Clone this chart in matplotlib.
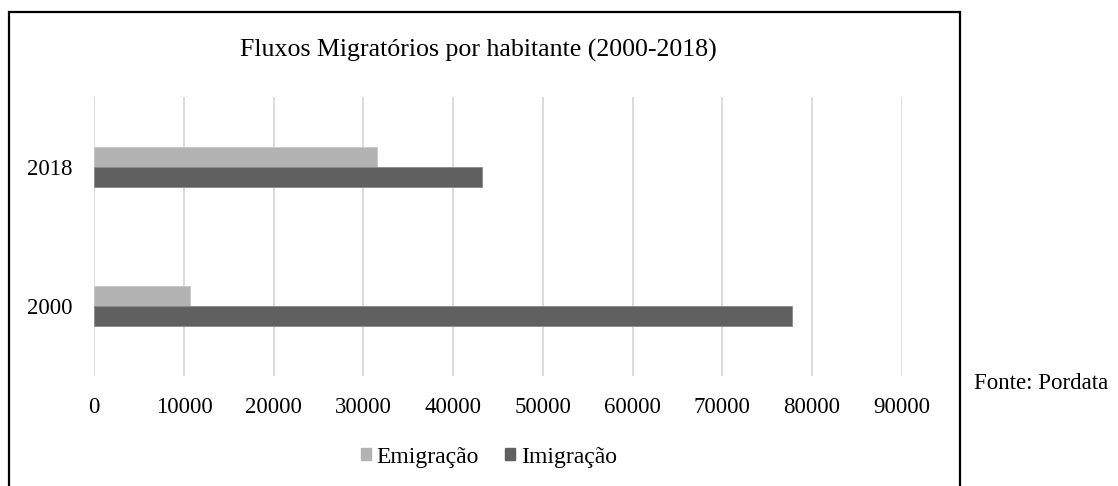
import matplotlib
matplotlib.use("Agg")
import matplotlib.pyplot as plt
from matplotlib.patches import Rectangle, Patch

# Dados (Pordata)
anos = ['2000', '2018']
emigracao = [10670, 31550]
imigracao = [77780, 43190]
ticks_x = [0, 10000, 20000, 30000, 40000, 50000, 60000, 70000, 80000, 90000]

COR_EMIG = '#b2b2b2'
COR_IMIG = '#606060'
FONTE = 'Liberation Serif'
TAM = 16.5

plt.rcParams['font.family'] = FONTE

W, H = 1118, 486
fig = plt.figure(figsize=(W / 100, H / 100), dpi=100)
ax = fig.add_axes([94.3 / W, 1 - 376 / H, (901.6 - 94.3) / W, (376 - 97) / H])

# Barras horizontais agrupadas
altura = 0.143
pos = list(range(len(anos)))
ax.barh([p + altura / 2 for p in pos], emigracao, height=altura,
        color=COR_EMIG, edgecolor='#c8c8c8', linewidth=0.6, zorder=3)
ax.barh([p - altura / 2 for p in pos], imigracao, height=altura,
        color=COR_IMIG, edgecolor='#8a8a8a', linewidth=0.6, zorder=3)

ax.set_xlim(0, 90000)
ax.set_ylim(-0.5, 1.5)
ax.set_xticks(ticks_x)
ax.set_xticklabels([str(t) for t in ticks_x], fontsize=TAM)
ax.set_yticks(pos)
ax.set_yticklabels(anos, fontsize=TAM)
ax.tick_params(axis='both', length=0)
ax.tick_params(axis='x', pad=15)
ax.tick_params(axis='y', pad=16)
ax.grid(axis='x', color='#d9d9d9', linewidth=1.3, zorder=0)
for s in ax.spines.values():
    s.set_visible(False)

# Titulo
fig.text(478 / W, 1 - 50 / H, 'Fluxos Migratórios por habitante (2000-2018)',
         ha='center', va='center', fontsize=18.6)

# Legenda
handles = [Patch(color=COR_EMIG, label='Emigração'),
           Patch(color=COR_IMIG, label='Imigração')]
fig.legend(handles=handles, loc='center', bbox_to_anchor=(489 / W, 1 - 457 / H),
           ncol=2, frameon=False, fontsize=17, handlelength=0.42, handleheight=0.42,
           handletextpad=0.25, columnspacing=1.1)

# Moldura do grafico
moldura = Rectangle((8.5 / W, -0.05), (960 - 8.5) / W, 1.05 - 12.5 / H,
                    transform=fig.transFigure, fill=False, edgecolor='black',
                    linewidth=1.6)
fig.patches.append(moldura)

fig.text(974 / W, 1 - 383 / H, 'Fonte: Pordata', ha='left', va='center', fontsize=TAM)

fig.savefig('out.png', dpi=100)
